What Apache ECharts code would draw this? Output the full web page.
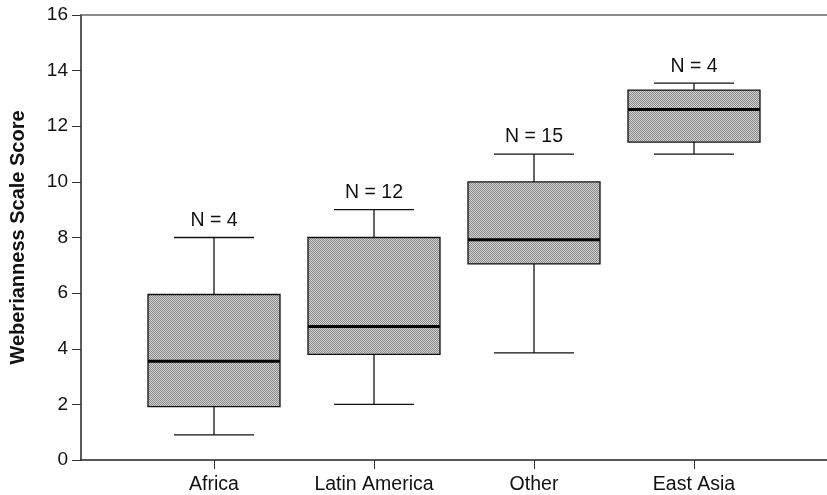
<!DOCTYPE html>
<html>
<head>
<meta charset="utf-8">
<script src="https://cdn.jsdelivr.net/npm/echarts@6/dist/echarts.min.js"></script>
<style>html,body{margin:0;padding:0;background:#fff}#c{width:827px;height:495px}</style>
</head>
<body>
<div id="c"></div>
<script>
// ---- data ----
var categories = ['Africa', 'Latin America', 'Other', 'East Asia'];
var whiskerLow = [0.9, 2.0, 3.85, 11.0];
var q1 = [1.92, 3.8, 7.05, 11.43];
var median = [3.55, 4.8, 7.92, 12.6];
var q3 = [5.95, 8.0, 10.0, 13.3];
var whiskerHigh = [8.0, 9.0, 11.0, 13.55];
var counts = [4, 12, 15, 4];
var yTicks = [0, 2, 4, 6, 8, 10, 12, 14, 16];

var boxData = categories.map(function (c, i) {
  return [i, whiskerLow[i], q1[i], median[i], q3[i], whiskerHigh[i], counts[i]];
});

// stipple pattern for the box fill
var pat = document.createElement('canvas');
pat.width = 4; pat.height = 4;
var pctx = pat.getContext('2d');
for (var px = 0; px < 4; px++) {
  for (var py = 0; py < 4; py++) {
    pctx.fillStyle = ((px + py) % 2 === 0) ? '#858585' : '#d6d6d6';
    pctx.fillRect(px, py, 1, 1);
  }
}

var chart = echarts.init(document.getElementById('c'));
var font = 'Liberation Sans, Arial, Helvetica, sans-serif';

chart.setOption({
  animation: false,
  grid: [
    { left: 80, right: 0, top: 15, bottom: 35 },
    { left: 134, width: 640, top: 15, bottom: 35 }
  ],
  xAxis: [
    { gridIndex: 0, type: 'value', min: 0, max: 1, position: 'bottom',
      axisLine: { show: true, lineStyle: { color: '#222', width: 1.5 } },
      axisTick: { show: false }, axisLabel: { show: false }, splitLine: { show: false } },
    { gridIndex: 1, type: 'category', data: categories, position: 'bottom',
      axisLine: { show: false },
      axisTick: { show: true, alignWithLabel: true, length: 9, lineStyle: { color: '#333', width: 1 } },
      axisLabel: { color: '#111', fontSize: 19.5, fontFamily: font, margin: 15 },
      splitLine: { show: false } },
    { gridIndex: 0, type: 'value', min: 0, max: 1, position: 'top',
      axisLine: { show: true, lineStyle: { color: '#666', width: 1.5 } },
      axisTick: { show: false }, axisLabel: { show: false }, splitLine: { show: false } }
  ],
  yAxis: [
    { gridIndex: 0, type: 'value', min: 0, max: 16, interval: 2,
      name: 'Weberianness Scale Score', nameLocation: 'middle', nameGap: 53,
      nameTextStyle: { fontSize: 20, fontWeight: 'bold', color: '#111', fontFamily: font },
      axisLine: { show: true, lineStyle: { color: '#222', width: 1.5 } },
      axisTick: { show: true, length: 9, lineStyle: { color: '#333' } },
      axisLabel: { color: '#111', fontSize: 19, fontFamily: font, margin: 13,
        formatter: function (v) { return yTicks.indexOf(v) >= 0 ? String(v) : ''; } },
      splitLine: { show: false } },
    { gridIndex: 1, type: 'value', min: 0, max: 16, show: false }
  ],
  series: [{
    type: 'custom',
    xAxisIndex: 1,
    yAxisIndex: 1,
    data: boxData,
    encode: { x: 0, y: [1, 2, 3, 4, 5] },
    renderItem: function (params, api) {
      var idx = api.value(0);
      var band = api.size([1, 0])[0];
      var pLow = api.coord([idx, api.value(1)]);
      var pQ1 = api.coord([idx, api.value(2)]);
      var pMed = api.coord([idx, api.value(3)]);
      var pQ3 = api.coord([idx, api.value(4)]);
      var pHigh = api.coord([idx, api.value(5)]);
      var cx = pMed[0];
      var bw = band * 0.825;
      var cw = band * 0.5;
      var stroke = { stroke: '#111', lineWidth: 1.3 };
      return {
        type: 'group',
        children: [
          { type: 'line', shape: { x1: cx, y1: pQ3[1], x2: cx, y2: pHigh[1] }, style: stroke },
          { type: 'line', shape: { x1: cx, y1: pQ1[1], x2: cx, y2: pLow[1] }, style: stroke },
          { type: 'line', shape: { x1: cx - cw / 2, y1: pHigh[1], x2: cx + cw / 2, y2: pHigh[1] }, style: stroke },
          { type: 'line', shape: { x1: cx - cw / 2, y1: pLow[1], x2: cx + cw / 2, y2: pLow[1] }, style: stroke },
          { type: 'rect', shape: { x: cx - bw / 2, y: pQ3[1], width: bw, height: pQ1[1] - pQ3[1] },
            style: { fill: { image: pat, repeat: 'repeat' }, stroke: '#111', lineWidth: 1.3 } },
          { type: 'line', shape: { x1: cx - bw / 2, y1: pMed[1], x2: cx + bw / 2, y2: pMed[1] },
            style: { stroke: '#000', lineWidth: 3 } },
          { type: 'text', x: cx, y: pHigh[1] - 7,
            style: { text: 'N = ' + api.value(6), fill: '#111', fontSize: 19.5, fontFamily: font,
              align: 'center', verticalAlign: 'bottom' } }
        ]
      };
    }
  }]
});
</script>
</body>
</html>
